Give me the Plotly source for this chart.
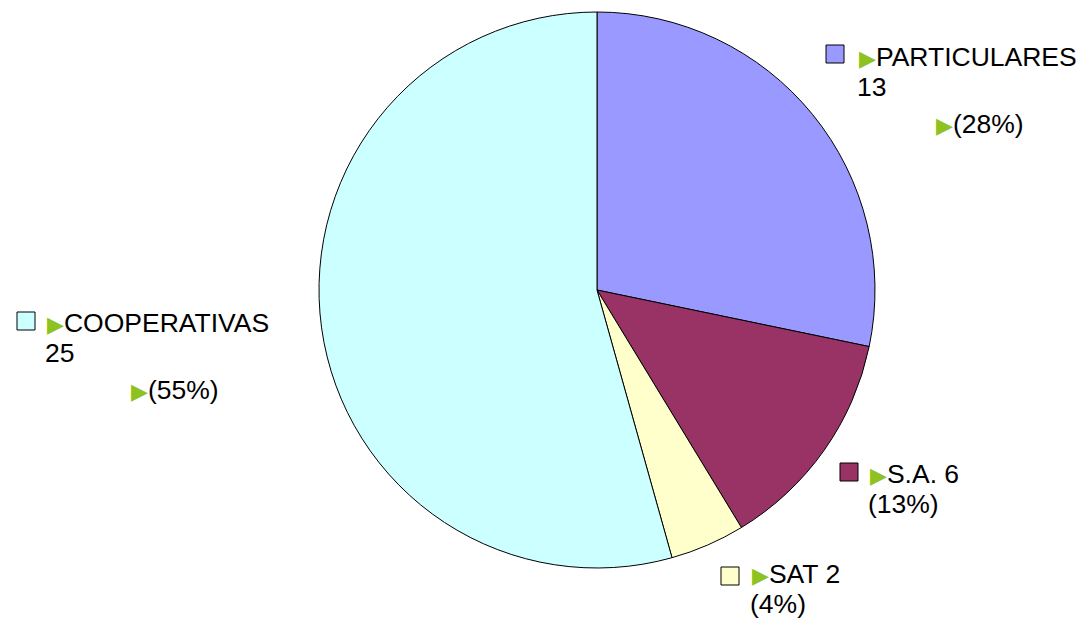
import plotly.graph_objects as go

categories = ["PARTICULARES", "S.A.", "SAT", "COOPERATIVAS"]
values = [13, 6, 2, 25]
percents = ["28%", "13%", "4%", "55%"]
colors = ["#9999FF", "#993366", "#FFFFCC", "#CCFFFF"]

W, H = 1092, 618
def px(x):
    return x / W
def py(y):
    return 1 - y / H

cx, cy, r = 597, 290, 278

fig = go.Figure(go.Pie(
    labels=categories, values=values, sort=False, direction="clockwise",
    marker=dict(colors=colors, line=dict(color="black", width=1)),
    textinfo="none", hoverinfo="label+value+percent",
    domain=dict(x=[px(cx - r), px(cx + r)], y=[py(cy + r), py(cy - r)]),
    showlegend=False,
))

TRI = '<span style="color:#8DC21F;font-size:22px;font-family:DejaVu Sans">▶</span>'
FONT = dict(family="Liberation Sans, Arial, DejaVu Sans", size=26.5, color="black")

# (square_left, square_top, line1_x, line1_y, line2_x, line2_y, pct_x, pct_y)
layouts = [
    (826, 45, 857, 57, 855, 87, 934, 124),
    (840, 463, 868, 474, 866, 504, None, None),
    (721, 567, 750, 574, 748, 604, None, None),
    (17, 312, 45, 323, 43, 353, 129, 390),
]

shapes = []
annotations = []
for i, (cat, val, pct, col) in enumerate(zip(categories, values, percents, colors)):
    sl, st, x1, y1, x2, y2, xp, yp = layouts[i]
    shapes.append(dict(type="rect", xref="paper", yref="paper",
                       x0=px(sl), x1=px(sl + 18), y0=py(st + 18), y1=py(st),
                       fillcolor=col, line=dict(color="black", width=1)))
    if xp is not None:
        annotations.append(dict(x=px(x1), y=py(y1), text=f"{TRI}{cat}"))
        annotations.append(dict(x=px(x2), y=py(y2), text=f"{val}"))
        annotations.append(dict(x=px(xp), y=py(yp), text=f"{TRI}({pct})"))
    else:
        annotations.append(dict(x=px(x1), y=py(y1), text=f"{TRI}{cat} {val}"))
        annotations.append(dict(x=px(x2), y=py(y2), text=f"({pct})"))

for a in annotations:
    a.update(xref="paper", yref="paper", xanchor="left", yanchor="middle",
             showarrow=False, font=FONT)

fig.update_layout(
    width=W, height=H, margin=dict(l=0, r=0, t=0, b=0),
    paper_bgcolor="white", plot_bgcolor="white",
    shapes=shapes, annotations=annotations,
)

fig.write_html("out.html", config={"displayModeBar": False},
               post_script="document.body.style.margin='0';")
